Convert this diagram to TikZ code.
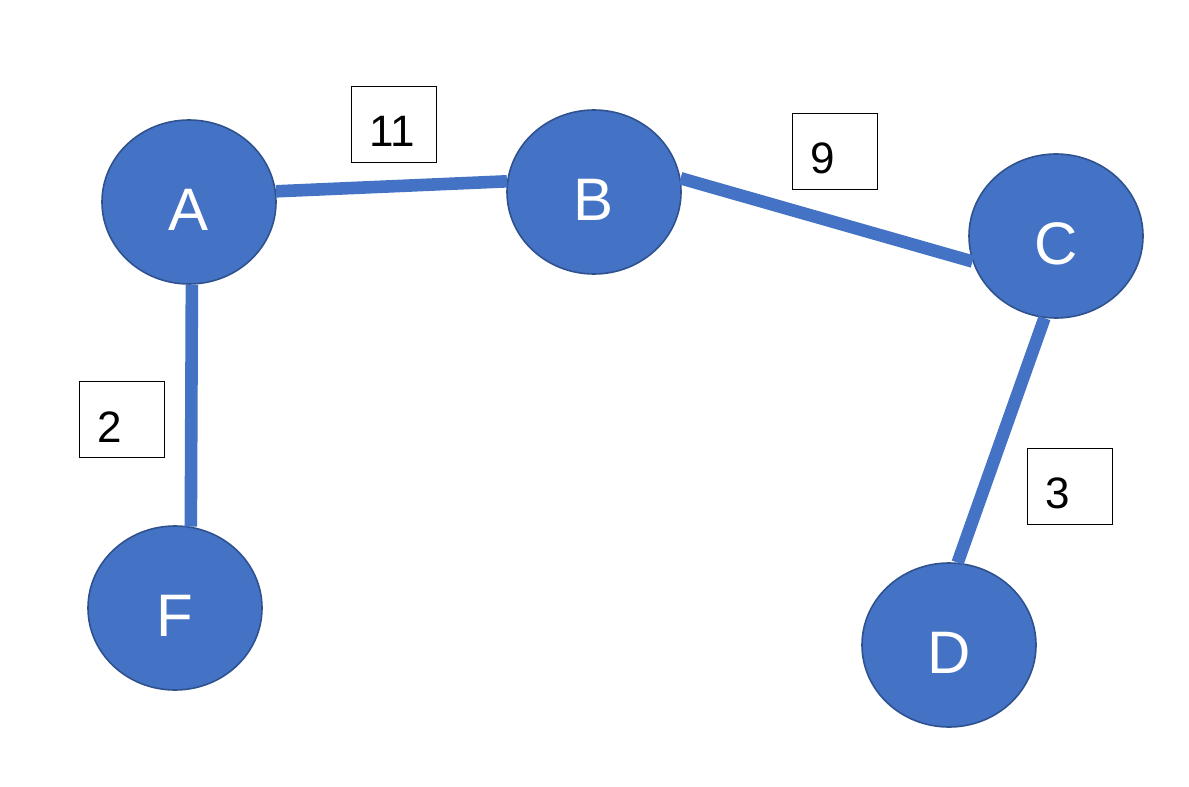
\documentclass[tikz,border=0pt]{standalone}
\usepackage{fontspec}
\setmainfont{Liberation Sans}
\usetikzlibrary{shapes.geometric}
\definecolor{nodefill}{HTML}{4472C4}
\definecolor{nodeborder}{HTML}{2F528F}
\begin{document}
\begin{tikzpicture}[x=0.5pt,y=-0.5pt,
  vertex/.style={ellipse,fill=nodefill,draw=nodeborder,line width=0.8pt,
    minimum width=87pt,minimum height=82pt,inner sep=0pt,text=white,
    text height=28.6pt,text depth=0pt,
    font=\fontsize{30}{32}\selectfont},
  edge/.style={draw=nodefill,line width=6.3pt},
  weight/.style={rectangle,draw=black,line width=0.5pt,fill=white,
    minimum width=42.5pt,minimum height=38pt,inner xsep=9pt,inner ysep=0pt,
    text height=22.8pt,text depth=0pt,
    text width=24.5pt,align=left,font=\fontsize{22}{24}\selectfont}]
\fill[white] (0,0) rectangle (1189,787);
\useasboundingbox (0,0) rectangle (1189,787);
\node[vertex] (A) at (189,202) {A};
\node[vertex] (B) at (594,192) {B};
\node[vertex] (C) at (1056,236) {C};
\node[vertex] (F) at (175,608) {F};
\node[vertex] (D) at (949,645) {D};
\draw[edge] (A.7.2) -- (B.173.4);
\draw[edge] (B.9.2) -- (C.197.4);
\draw[edge] (A.272.8) -- (F.79.5);
\draw[edge] (C.262.4) -- (D.84.3);
\node[weight] (w11) at (393.5,124) {11};
\node[weight] (w9) at (834.5,151) {9};
\node[weight] (w2) at (121.5,419.5) {2};
\node[weight] (w3) at (1069.5,486) {3};
\end{tikzpicture}
\end{document}
